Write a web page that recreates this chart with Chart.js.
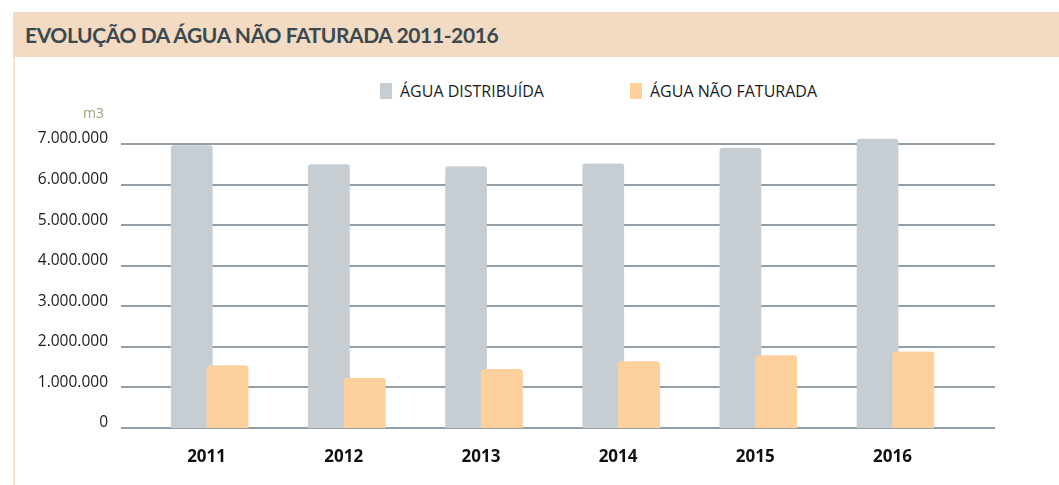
<!DOCTYPE html>
<html lang="pt">
<head>
<meta charset="utf-8">
<title>Evolução da água não faturada 2011-2016</title>
<script src="https://cdn.jsdelivr.net/npm/chart.js@4.4.1/dist/chart.umd.min.js"></script>
<style>
  html, body { margin: 0; padding: 0; background: #fff; }
  #wrap { position: relative; width: 1059px; height: 485px; overflow: hidden; }
  #titulo {
    position: absolute; left: 13px; top: 12px; width: 1046px; height: 45px;
    background: #f2dbc2; color: #3b4850;
    font: bold 21px "Lato", "Open Sans", sans-serif; letter-spacing: -0.4px;
    line-height: 46px; padding-left: 12px; box-sizing: border-box;
  }
  #borda { position: absolute; left: 13px; top: 57px; width: 2px; height: 428px; background: #fbe4cf; }
  .leg { position: absolute; top: 83px; font: 16px "Open Sans", sans-serif; color: #1b1b1b; line-height: 16px; white-space: nowrap; }
  .leg span.cx { display: inline-block; width: 12px; height: 16px; vertical-align: top; margin-right: 8px; }
  canvas { position: absolute; left: 0; top: 0; }
</style>
</head>
<body>
<div id="wrap">
  <div id="titulo">EVOLUÇÃO DA ÁGUA NÃO FATURADA 2011-2016</div>
  <div id="borda"></div>
  <div id="legenda"></div>
  <canvas id="grafico" width="1059" height="485"></canvas>
</div>
<script>
const anos = ["2011", "2012", "2013", "2014", "2015", "2016"];
const series = ["ÁGUA DISTRIBUÍDA", "ÁGUA NÃO FATURADA"];
const aguaDistribuida = [6970000, 6500000, 6450000, 6520000, 6910000, 7130000];
const aguaNaoFaturada = [1540000, 1230000, 1450000, 1640000, 1790000, 1880000];
const ticksY = [0, 1000000, 2000000, 3000000, 4000000, 5000000, 6000000, 7000000];
const cores = ["#c6cdd3", "#fdd09c"];

function formata(v) {
  return String(v).replace(/\B(?=(\d{3})+(?!\d))/g, ".");
}

// legenda em html
const posLeg = [380, 630];
const legenda = document.getElementById("legenda");
series.forEach((s, i) => {
  const d = document.createElement("div");
  d.className = "leg";
  d.style.left = posLeg[i] + "px";
  d.innerHTML = `<span class="cx" style="background:${cores[i]}"></span>${s}`;
  legenda.appendChild(d);
});

// linhas de grade que passam um pouco das barras + "m3"
const gradeLonga = {
  id: "gradeLonga",
  beforeDatasetsDraw(chart) {
    const { ctx, chartArea, scales } = chart;
    ctx.save();
    ctx.strokeStyle = "#939fa6";
    ctx.lineWidth = 2;
    ticksY.forEach(v => {
      const y = Math.round(scales.y.getPixelForValue(v));
      ctx.beginPath();
      ctx.moveTo(chartArea.left - 20, y);
      ctx.lineTo(chartArea.right + 31, y);
      ctx.stroke();
    });
    ctx.fillStyle = "#a0a47c";
    ctx.font = "14px 'Open Sans', sans-serif";
    ctx.textAlign = "right";
    ctx.fillText("m3", scales.y.right - 37, scales.y.getPixelForValue(7000000) - 26);
    ctx.restore();
  },
  // a barra laranja fica por cima da cinzenta
  afterDatasetsDraw(chart) {
    chart.getDatasetMeta(1).data.forEach(el => el.draw(chart.ctx));
  }
};

const ctx = document.getElementById("grafico").getContext("2d");
new Chart(ctx, {
  type: "bar",
  data: {
    labels: anos,
    datasets: [
      { label: series[0], data: aguaDistribuida, backgroundColor: cores[0], borderRadius: 3, borderSkipped: "bottom", clip: false },
      { label: series[1], data: aguaNaoFaturada, backgroundColor: cores[1], borderRadius: 3, borderSkipped: "bottom", clip: false }
    ]
  },
  options: {
    responsive: false,
    animation: false,
    categoryPercentage: 0.52,
    barPercentage: 1.17,
    layout: { padding: { left: 0, right: 95, top: 144, bottom: 0 } },
    plugins: { legend: { display: false }, tooltip: { enabled: false } },
    scales: {
      x: {
        grid: { display: false, drawTicks: false },
        border: { display: false },
        ticks: { color: "#111", padding: 19, labelOffset: -3, font: { family: "'Open Sans', sans-serif", size: 17, weight: "bold" } },
        afterFit(s) { s.height = 57; }
      },
      y: {
        min: 0,
        max: 7000000,
        afterBuildTicks(s) { s.ticks = ticksY.map(v => ({ value: v })); },
        grid: { display: false, drawTicks: false },
        border: { display: false },
        ticks: {
          color: "#1b1b1b", padding: 33, labelOffset: -5,
          font: { family: "'Open Sans', sans-serif", size: 15.5 },
          callback: v => formata(v)
        },
        afterFit(s) { s.width = 141; }
      }
    }
  },
  plugins: [gradeLonga]
});
</script>
</body>
</html>
